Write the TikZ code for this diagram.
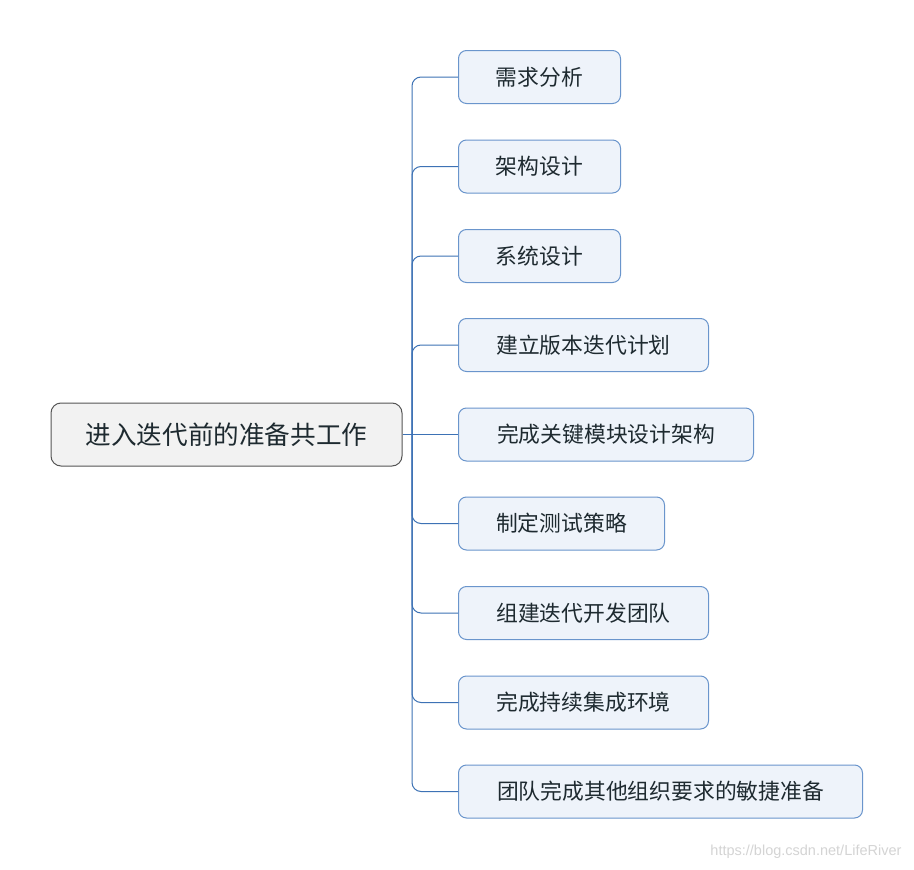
\documentclass[tikz,border=0pt]{standalone}
\usepackage{fontspec}
\setmainfont{Liberation Sans}
\newfontfamily\cjk{Noto Sans CJK SC}
\definecolor{conncol}{HTML}{3D72B5}
\definecolor{childfill}{HTML}{EEF3FA}
\definecolor{childdraw}{HTML}{6A95CC}
\definecolor{rootfill}{HTML}{F2F2F2}
\definecolor{rootdraw}{HTML}{555555}
\definecolor{txt}{HTML}{1E2A30}
\definecolor{wm}{HTML}{D4D4D4}
\begin{document}
\begin{tikzpicture}[x=1pt,y=-1pt,
  rootbox/.style={draw=rootdraw,fill=rootfill,line width=1pt,rounded corners=10pt,minimum width=351pt,minimum height=63pt,font=\cjk\fontsize{25.6}{30}\selectfont,text=txt,inner sep=0pt},
  childbox/.style={draw=childdraw,fill=childfill,line width=1pt,rounded corners=8pt,minimum height=53pt,anchor=west,font=\cjk\fontsize{21.8}{26}\selectfont,text=txt,inner sep=0pt},
  conn/.style={draw=conncol,line width=1pt,rounded corners=9pt}]
\useasboundingbox (0,0) rectangle (914,870);
\fill[white] (0,0) rectangle (914,870);
\node[rootbox] (root) at (226.5,434.5) {进入迭代前的准备共工作};
\node[childbox,minimum width=162pt] (c1) at (458,77) {需求分析};
\node[childbox,minimum width=162pt] (c2) at (458,166.5) {架构设计};
\node[childbox,minimum width=162pt] (c3) at (458,256) {系统设计};
\node[childbox,minimum width=250pt] (c4) at (458,345) {建立版本迭代计划};
\node[childbox,minimum width=295pt] (c5) at (458,434.5) {完成关键模块设计架构};
\node[childbox,minimum width=206pt] (c6) at (458,523.5) {制定测试策略};
\node[childbox,minimum width=250pt] (c7) at (458,613) {组建迭代开发团队};
\node[childbox,minimum width=250pt] (c8) at (458,702.5) {完成持续集成环境};
\node[childbox,minimum width=404pt] (c9) at (458,791.5) {团队完成其他组织要求的敏捷准备};
\coordinate (bus) at (412,434.5);
\draw[conn] (root.east) -- (c5.west);
\foreach \c in {c1,c2,c3,c4,c6,c7,c8,c9}{
  \draw[conn] (bus) |- (\c.west);
}
\node[text=wm,font=\fontsize{14.5}{17}\selectfont,anchor=east] (wmk) at (905,852) {https://blog.csdn.net/LifeRiver};
\end{tikzpicture}
\end{document}
